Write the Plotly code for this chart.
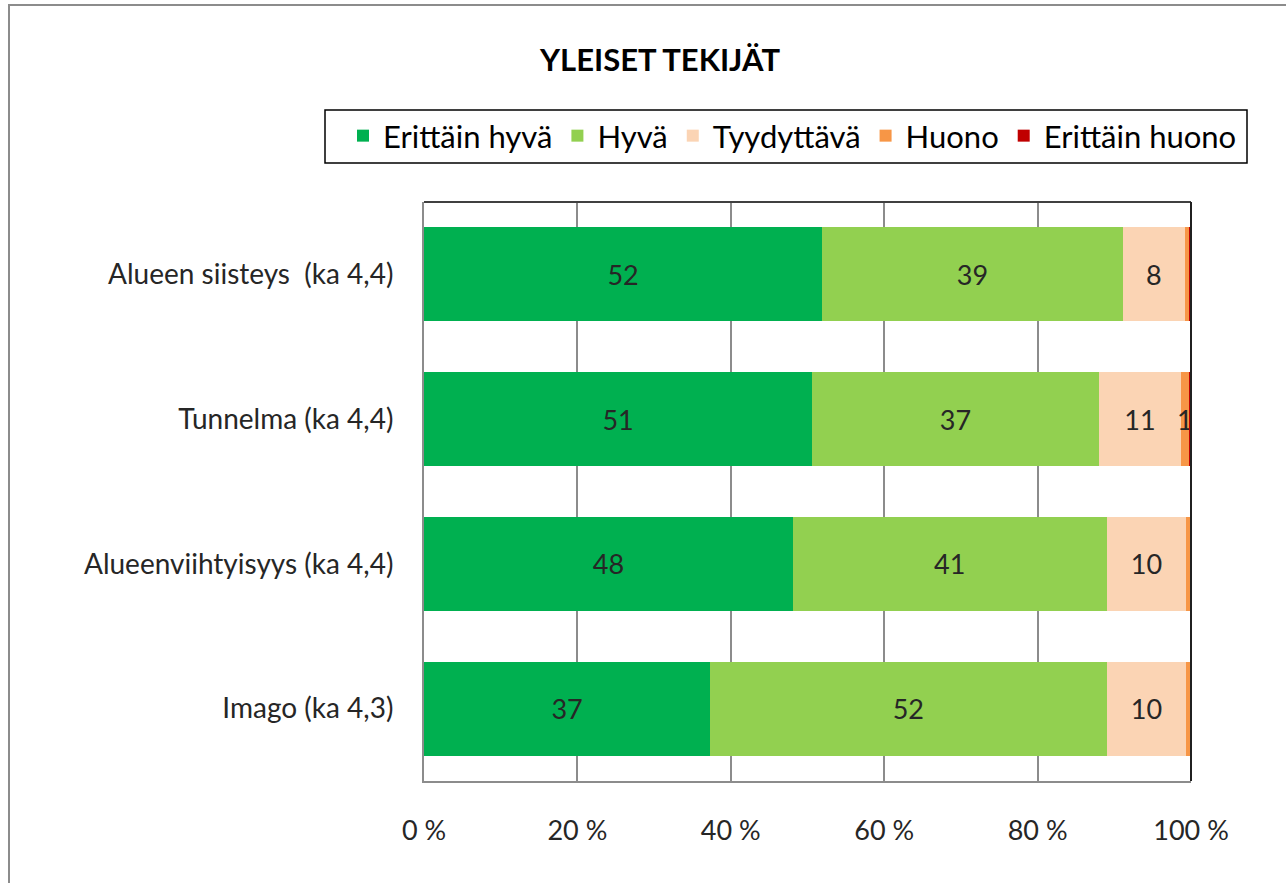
import plotly.graph_objects as go

categories = ["Alueen siisteys  (ka 4,4)", "Tunnelma (ka 4,4)", "Alueenviihtyisyys (ka 4,4)", "Imago (ka 4,3)"]
series_names = ["Erittäin hyvä", "Hyvä", "Tyydyttävä", "Huono", "Erittäin huono"]
erittain_hyva = [51.9, 50.6, 48.1, 37.3]
hyva = [39.2, 37.4, 40.9, 51.7]
tyydyttava = [8.1, 10.7, 10.4, 10.4]
huono = [0.5, 1.0, 0.6, 0.6]
erittain_huono = [0.3, 0.3, 0.0, 0.0]
x_tick_vals = [0, 20, 40, 60, 80, 100]
x_tick_text = ["0 %", "20 %", "40 %", "60 %", "80 %", "100 %"]

colors = ["#00B050", "#92D050", "#FBD4B4", "#F79646", "#C00000"]
series = [erittain_hyva, hyva, tyydyttava, huono, erittain_huono]

FONT = "Lato"
W, H = 1286, 883
L, R, T, B = 424, 1191, 202, 781

fig = go.Figure()
for name, vals, col in zip(series_names, series, colors):
    labels = [f"{round(v)}" if v >= 0.95 else "" for v in vals]
    fig.add_trace(go.Bar(
        y=categories, x=vals, name=name, orientation="h",
        marker=dict(color=col, line=dict(width=0)),
        text=labels, textposition="inside", insidetextanchor="middle",
        textfont=dict(family=FONT, size=27, color="#262626"),
    ))

def px_x(p):
    return (p - L) / (R - L)

def px_y(p):
    return (B - p) / (B - T)

shapes = [
    # outer chart border
    dict(type="rect", xref="paper", yref="paper", x0=px_x(9), x1=px_x(1295), y0=px_y(892), y1=px_y(5),
         line=dict(color="#8C8C8C", width=2), fillcolor="rgba(0,0,0,0)", layer="below"),
    # legend box
    dict(type="rect", xref="paper", yref="paper", x0=px_x(325), x1=px_x(1247), y0=px_y(163), y1=px_y(110),
         line=dict(color="#000000", width=1.5), fillcolor="rgba(0,0,0,0)"),
    # top border of plot area
    dict(type="line", xref="paper", yref="paper", x0=0, x1=1, y0=1, y1=1,
         line=dict(color="#404040", width=2)),
    # right line at 100 %
    dict(type="line", xref="paper", yref="paper", x0=1, x1=1, y0=0, y1=1,
         line=dict(color="#202020", width=2)),
]

fig.update_layout(
    width=W, height=H,
    margin=dict(l=L, r=W - R, t=T, b=H - B, autoexpand=False),
    paper_bgcolor="white", plot_bgcolor="white",
    barmode="stack", bargap=0.35,
    uniformtext=dict(minsize=27, mode="show"),
    font=dict(family=FONT, size=27, color="#262626"),
    title=dict(text="<b>YLEISET TEKIJÄT</b>", x=px_x(660), xanchor="center",
               xref="paper", y=1 - 60 / H, yanchor="middle",
               font=dict(family=FONT, size=31, color="#000000")),
    showlegend=True,
    legend=dict(orientation="h", x=px_x(343), xanchor="left", y=px_y(136), yanchor="middle",
                font=dict(family=FONT, size=31, color="#000000"),
                traceorder="normal", bgcolor="rgba(0,0,0,0)", itemwidth=30),
    xaxis=dict(range=[0, 100], tickvals=x_tick_vals, ticktext=x_tick_text,
               showgrid=True, gridcolor="#8C8C8C", gridwidth=1.5,
               showline=True, linecolor="#8C8C8C", linewidth=2,
               zeroline=False, ticks="", ticklabelstandoff=25,
               tickfont=dict(family=FONT, size=27, color="#262626"), fixedrange=True),
    yaxis=dict(autorange="reversed", showgrid=False, showline=True, linecolor="#8C8C8C", linewidth=2,
               ticks="", ticklabelstandoff=23,
               tickfont=dict(family=FONT, size=28, color="#262626"), fixedrange=True),
    shapes=shapes,
)

fig.write_html("out.html", config={"displayModeBar": False},
               post_script="document.body.style.margin='0';document.body.style.padding='0';")
